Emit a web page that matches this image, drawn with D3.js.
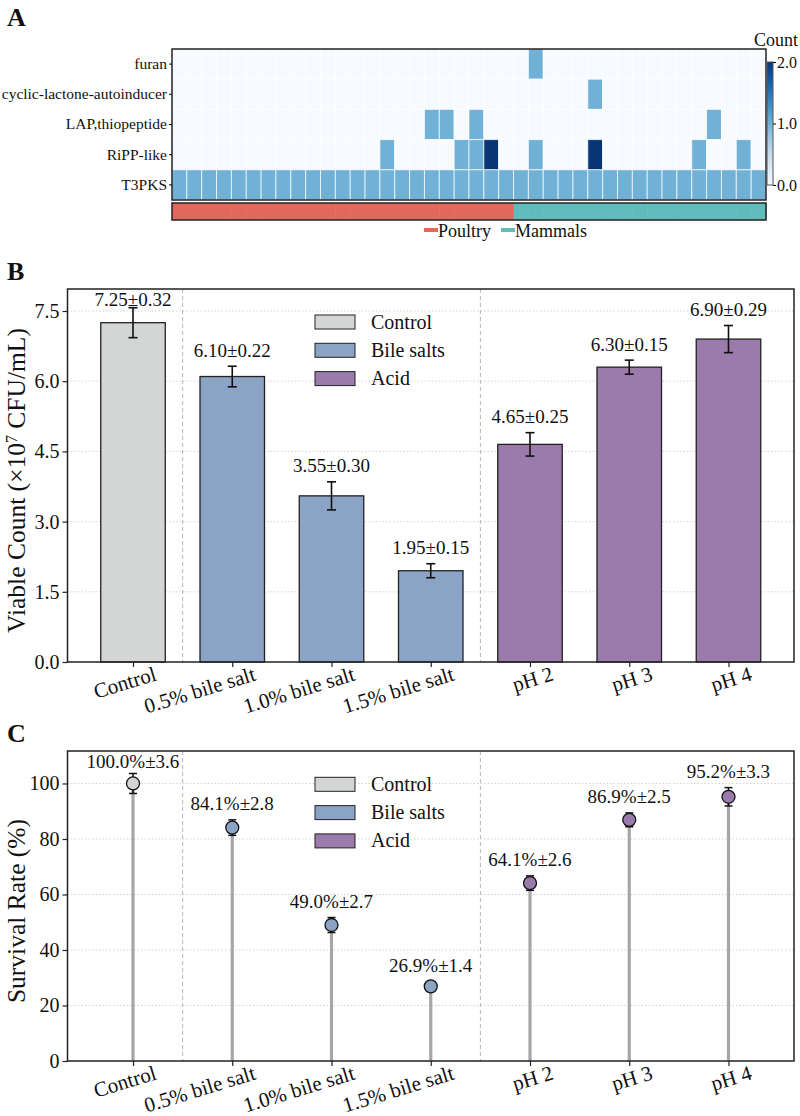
<!DOCTYPE html>
<html>
<head>
<meta charset="utf-8">
<script src="https://cdn.jsdelivr.net/npm/d3@7"></script>
<style>
  body { margin: 0; background: #fff; }
  svg text { font-family: "Liberation Serif", "Times New Roman", serif; fill: #111; }
</style>
</head>
<body>
<div id="chart"></div>
<script>
var width = 800;
var height = 1116;

// ---- panel A data (BGC counts per genome) ----
var hmRows = ["furan", "cyclic-lactone-autoinducer", "LAP,thiopeptide", "RiPP-like", "T3PKS"];
var furan   = [0,0,0,0,0,0,0,0,0,0, 0,0,0,0,0,0,0,0,0,0, 0,0,0,0,1,0,0,0,0,0, 0,0,0,0,0,0,0,0,0,0];
var lactone = [0,0,0,0,0,0,0,0,0,0, 0,0,0,0,0,0,0,0,0,0, 0,0,0,0,0,0,0,0,1,0, 0,0,0,0,0,0,0,0,0,0];
var lap     = [0,0,0,0,0,0,0,0,0,0, 0,0,0,0,0,0,0,1,1,0, 1,0,0,0,0,0,0,0,0,0, 0,0,0,0,0,0,1,0,0,0];
var ripp    = [0,0,0,0,0,0,0,0,0,0, 0,0,0,0,1,0,0,0,0,1, 1,2,0,0,1,0,0,0,2,0, 0,0,0,0,0,1,0,0,1,0];
var t3pks   = [1,1,1,1,1,1,1,1,1,1, 1,1,1,1,1,1,1,1,1,1, 1,1,1,1,1,1,1,1,1,1, 1,1,1,1,1,1,1,1,1,1];
var hmGroups = [
  "Poultry","Poultry","Poultry","Poultry","Poultry","Poultry","Poultry","Poultry","Poultry","Poultry",
  "Poultry","Poultry","Poultry","Poultry","Poultry","Poultry","Poultry","Poultry","Poultry","Poultry",
  "Poultry","Poultry","Poultry","Mammals","Mammals","Mammals","Mammals","Mammals","Mammals","Mammals",
  "Mammals","Mammals","Mammals","Mammals","Mammals","Mammals","Mammals","Mammals","Mammals","Mammals"];
var groupNames = ["Poultry", "Mammals"];
var cbTicks = [0, 1, 2];

// ---- panels B and C data ----
var categories = ["Control", "0.5% bile salt", "1.0% bile salt", "1.5% bile salt", "pH 2", "pH 3", "pH 4"];
var treatGroup = ["Control", "Bile salts", "Bile salts", "Bile salts", "Acid", "Acid", "Acid"];
var legendNames = ["Control", "Bile salts", "Acid"];
var viable = [7.25, 6.10, 3.55, 1.95, 4.65, 6.30, 6.90];
var viableErr = [0.32, 0.22, 0.30, 0.15, 0.25, 0.15, 0.29];
var survival = [100.0, 84.1, 49.0, 26.9, 64.1, 86.9, 95.2];
var survivalErr = [3.6, 2.8, 2.7, 1.4, 2.6, 2.5, 3.3];
var yTicksB = [0, 1.5, 3.0, 4.5, 6.0, 7.5];
var yTicksC = [0, 20, 40, 60, 80, 100];

var groupColor = d3.scaleOrdinal().domain(groupNames).range(["#e0695b", "#5fbcbb"]);
var treatColor = d3.scaleOrdinal().domain(legendNames).range(["#d4d6d5", "#8ba3c4", "#9b7bab"]);

var svg = d3.select('#chart').append('svg')
  .attr('width', width)
  .attr('height', height);

// =============== Panel A ===============
var hmData = [furan, lactone, lap, ripp, t3pks];
var hx = d3.scaleBand().domain(d3.range(furan.length)).range([172, 766]);
var hy = d3.scaleBand().domain(hmRows).range([49, 200]);
var blues = d3.scaleSequential(d3.interpolateBlues).domain([0, 2.05]);

svg.append('text').attr('x', 7).attr('y', 26)
  .attr('font-size', 26).attr('font-weight', 'bold').text('A');

var cells = [];
hmData.forEach((row, r) => row.forEach((v, c) => cells.push({ r: hmRows[r], c: c, v: v })));

svg.append('g').selectAll('rect')
  .data(cells).enter().append('rect')
  .attr('x', d => hx(d.c))
  .attr('y', d => hy(d.r))
  .attr('width', hx.bandwidth())
  .attr('height', hy.bandwidth())
  .attr('fill', d => blues(d.v))
  .attr('stroke', '#ffffff')
  .attr('stroke-opacity', 0.7)
  .attr('stroke-width', 1);

svg.append('rect').attr('x', 172).attr('y', 49).attr('width', 594).attr('height', 151)
  .attr('fill', 'none').attr('stroke', '#222').attr('stroke-width', 1.5);

var hyAxis = svg.append('g').attr('transform', 'translate(172,0)')
  .call(d3.axisLeft(hy).tickSize(3).tickPadding(2));
hyAxis.select('.domain').remove();
hyAxis.selectAll('text').attr('font-size', 15.5).attr('fill', '#111')
  .style('font-family', '"Liberation Serif", serif');

// group annotation bar
svg.append('g').selectAll('rect')
  .data(hmGroups).enter().append('rect')
  .attr('x', (d, i) => hx(i))
  .attr('y', 203)
  .attr('width', hx.bandwidth() + 0.5)
  .attr('height', 17)
  .attr('fill', d => groupColor(d));
svg.append('rect').attr('x', 172).attr('y', 203).attr('width', 594).attr('height', 17)
  .attr('fill', 'none').attr('stroke', '#222').attr('stroke-width', 1.5);

// group legend
var gLeg = svg.append('g');
var gx = [424, 501];
groupNames.forEach((g, i) => {
  gLeg.append('rect').attr('x', gx[i]).attr('y', 228).attr('width', 14).attr('height', 4)
    .attr('fill', groupColor(g));
  gLeg.append('text').attr('x', gx[i] + 14).attr('y', 237)
    .attr('font-size', 18).text(g);
});

// colorbar
var defs = svg.append('defs');
var grad = defs.append('linearGradient').attr('id', 'cbgrad')
  .attr('x1', 0).attr('y1', 1).attr('x2', 0).attr('y2', 0);
d3.range(0, 1.001, 0.1).forEach(t => {
  grad.append('stop').attr('offset', t).attr('stop-color', blues(t * 2));
});
var cbY = d3.scaleLinear().domain([0, 2]).range([185, 62]);
svg.append('rect').attr('x', 767).attr('y', 62).attr('width', 6).attr('height', 123)
  .attr('fill', 'url(#cbgrad)').attr('stroke', '#555').attr('stroke-width', 1);
var cbAxis = svg.append('g').attr('transform', 'translate(773,0)')
  .call(d3.axisRight(cbY).tickValues(cbTicks).tickFormat(d3.format('.1f')).tickSize(3).tickPadding(1));
cbAxis.select('.domain').remove();
cbAxis.selectAll('text').attr('font-size', 16).attr('fill', '#111')
  .style('font-family', '"Liberation Serif", serif');
svg.append('text').attr('x', 776).attr('y', 46).attr('text-anchor', 'middle')
  .attr('font-size', 18).text('Count');

// =============== Panels B and C ===============
var left = 67.5, right = 794;
var xScale = d3.scaleLinear().domain([-0.66, 6.66]).range([left, right]);

function panel(opts) {
  var g = svg.append('g');
  var yScale = d3.scaleLinear().domain(opts.domain).range([opts.bottom, opts.top]);

  g.append('text').attr('x', 7).attr('y', opts.top - 9)
    .attr('font-size', 26).attr('font-weight', 'bold').text(opts.letter);

  // grid
  g.selectAll('.grid').data(opts.ticks.slice(1)).enter().append('line')
    .attr('x1', left).attr('x2', right)
    .attr('y1', d => yScale(d)).attr('y2', d => yScale(d))
    .attr('stroke', '#c8c8c8').attr('stroke-width', 0.8).attr('stroke-dasharray', '1.5,2');

  // group separators
  g.selectAll('.sep').data([0.5, 3.5]).enter().append('line')
    .attr('x1', d => xScale(d)).attr('x2', d => xScale(d))
    .attr('y1', opts.top).attr('y2', opts.bottom)
    .attr('stroke', '#b5b5b5').attr('stroke-width', 1).attr('stroke-dasharray', '4,3');

  opts.draw(g, yScale);

  // value labels
  g.selectAll('.vlab').data(opts.values).enter().append('text')
    .attr('x', (d, i) => xScale(i))
    .attr('y', (d, i) => yScale(Math.min(d + opts.errs[i] + opts.labelGap, opts.labelCap)))
    .attr('text-anchor', 'middle')
    .attr('font-size', 19)
    .text((d, i) => opts.fmt(d, opts.errs[i]));

  // legend
  legendNames.forEach((n, i) => {
    var ly = opts.legendY + i * 28.3;
    g.append('rect').attr('x', 315).attr('y', ly - 7).attr('width', 40).attr('height', 14)
      .attr('fill', treatColor(n)).attr('stroke', '#222').attr('stroke-width', 1);
    g.append('text').attr('x', 371).attr('y', ly + 6.5).attr('font-size', 20).text(n);
  });

  // axes
  var ya = g.append('g').attr('transform', 'translate(' + left + ',0)')
    .call(d3.axisLeft(yScale).tickValues(opts.ticks).tickFormat(opts.tickFmt).tickSize(5).tickPadding(3));
  ya.select('.domain').remove();
  ya.selectAll('line').attr('stroke', '#222').attr('stroke-width', 1.2);
  ya.selectAll('text').attr('font-size', 20).attr('fill', '#111')
    .style('font-family', '"Liberation Serif", serif');

  var xa = g.append('g').attr('transform', 'translate(0,' + opts.bottom + ')')
    .call(d3.axisBottom(xScale).tickValues(d3.range(categories.length))
      .tickFormat(i => categories[i]).tickSize(5));
  xa.select('.domain').remove();
  xa.selectAll('line').attr('stroke', '#222').attr('stroke-width', 1.2);
  xa.selectAll('text')
    .attr('font-size', 21).attr('fill', '#111')
    .style('font-family', '"Liberation Serif", serif')
    .attr('text-anchor', 'end')
    .attr('dy', null)
    .attr('y', 0)
    .attr('transform', 'translate(24,18) rotate(-17)');

  g.append('rect').attr('x', left).attr('y', opts.top)
    .attr('width', right - left).attr('height', opts.bottom - opts.top)
    .attr('fill', 'none').attr('stroke', '#222').attr('stroke-width', 1.5);

  var t = g.append('text')
    .attr('transform', 'translate(25,' + ((opts.top + opts.bottom) / 2 + 5) + ') rotate(-90)')
    .attr('text-anchor', 'middle').attr('font-size', 25.5);
  opts.title(t);
}

// Panel B: bars
panel({
  letter: 'B', top: 289, bottom: 662, domain: [0, 7.97], ticks: yTicksB,
  tickFmt: d3.format('.1f'), values: viable, errs: viableErr,
  labelGap: 0.2, labelCap: 7.6, legendY: 322,
  fmt: (v, e) => v.toFixed(2) + '±' + e.toFixed(2),
  title: t => {
    t.append('tspan').text('Viable Count (×10');
    t.append('tspan').attr('baseline-shift', 'super').attr('font-size', 16).text('7');
    t.append('tspan').text(' CFU/mL)');
  },
  draw: (g, y) => {
    var bw = xScale(0.65) - xScale(0);
    g.selectAll('.bar').data(viable).enter().append('rect')
      .attr('x', (d, i) => xScale(i) - bw / 2)
      .attr('y', d => y(d))
      .attr('width', bw)
      .attr('height', d => y(0) - y(d))
      .attr('fill', (d, i) => treatColor(treatGroup[i]))
      .attr('stroke', '#222').attr('stroke-width', 1.3);
    viable.forEach((v, i) => {
      var cx = xScale(i), e = viableErr[i];
      g.append('line').attr('x1', cx).attr('x2', cx).attr('y1', y(v - e)).attr('y2', y(v + e))
        .attr('stroke', '#111').attr('stroke-width', 1.6);
      [v - e, v + e].forEach(yy => {
        g.append('line').attr('x1', cx - 4.5).attr('x2', cx + 4.5).attr('y1', y(yy)).attr('y2', y(yy))
          .attr('stroke', '#111').attr('stroke-width', 1.6);
      });
    });
  }
});

// Panel C: lollipops
panel({
  letter: 'C', top: 751, bottom: 1061, domain: [0, 111.7], ticks: yTicksC,
  tickFmt: d3.format('d'), values: survival, errs: survivalErr,
  labelGap: 3.6, labelCap: 105.6, legendY: 784.3,
  fmt: (v, e) => v.toFixed(1) + '%±' + e.toFixed(1),
  title: t => t.text('Survival Rate (%)'),
  draw: (g, y) => {
    g.selectAll('.stem').data(survival).enter().append('line')
      .attr('x1', (d, i) => xScale(i)).attr('x2', (d, i) => xScale(i))
      .attr('y1', y(0)).attr('y2', d => y(d))
      .attr('stroke', '#a6a6a6').attr('stroke-width', 3.2);
    survival.forEach((v, i) => {
      var cx = xScale(i), e = survivalErr[i];
      g.append('line').attr('x1', cx).attr('x2', cx).attr('y1', y(v - e)).attr('y2', y(v + e))
        .attr('stroke', '#111').attr('stroke-width', 1.5);
      [v - e, v + e].forEach(yy => {
        g.append('line').attr('x1', cx - 4).attr('x2', cx + 4).attr('y1', y(yy)).attr('y2', y(yy))
          .attr('stroke', '#111').attr('stroke-width', 1.5);
      });
    });
    g.selectAll('.dot').data(survival).enter().append('circle')
      .attr('cx', (d, i) => xScale(i))
      .attr('cy', d => y(d))
      .attr('r', 6.5)
      .attr('fill', (d, i) => treatColor(treatGroup[i]))
      .attr('stroke', '#111').attr('stroke-width', 1.3);
  }
});
</script>
</body>
</html>
